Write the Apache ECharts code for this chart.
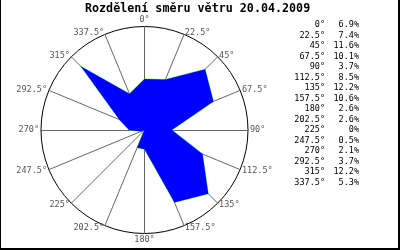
<!DOCTYPE html>
<html>
<head>
<meta charset="utf-8">
<script src="https://cdn.jsdelivr.net/npm/echarts@6/dist/echarts.min.js"></script>
<style>html,body{margin:0;padding:0;background:#fff}#c{width:400px;height:250px}</style>
</head>
<body>
<div id="c"></div>
<script>
const titleText = 'Rozdělení směru větru 20.04.2009';
const directionLabels = ['0°','22.5°','45°','67.5°','90°','112.5°','135°','157.5°','180°','202.5°','225°','247.5°','270°','292.5°','315°','337.5°'];
const percentValues = [6.9, 7.4, 11.6, 10.1, 3.7, 8.5, 12.2, 10.6, 2.6, 2.6, 0, 0.5, 2.1, 3.7, 12.2, 5.3];
const radialMax = 14;

// radar draws counter-clockwise; reorder so directions go clockwise from north
const order = directionLabels.map((_, i) => (directionLabels.length - i) % directionLabels.length);
const indicators = order.map(i => ({ name: directionLabels[i], max: radialMax, min: 0 }));
const radarValues = order.map(i => percentValues[i]);

const mono = 'DejaVu Sans Mono';
const legendElems = [];
directionLabels.forEach((lab, i) => {
  const y = 25 + i * 10.5;
  legendElems.push({ type: 'text', x: 325, y: y, style: { text: lab, font: '8.5px "' + mono + '"', fill: '#000', align: 'right', verticalAlign: 'middle' } });
  legendElems.push({ type: 'text', x: 359, y: y, style: { text: percentValues[i] + '%', font: '8.5px "' + mono + '"', fill: '#000', align: 'right', verticalAlign: 'middle' } });
});

const chart = echarts.init(document.getElementById('c'), null, { renderer: 'canvas' });
chart.setOption({
  animation: false,
  backgroundColor: '#fff',
  title: {
    text: titleText, left: 85, top: 3, padding: 0,
    textStyle: { fontFamily: mono, fontSize: 11.7, fontWeight: 'bold', color: '#000' }
  },
  radar: {
    center: [144.5, 130], radius: 103.5, startAngle: 90,
    shape: 'circle', splitNumber: 1,
    indicator: indicators,
    nameGap: 2,
    axisName: { color: '#555', fontFamily: mono, fontSize: 8.5 },
    axisLine: { lineStyle: { color: '#666', width: 1 } },
    splitLine: { lineStyle: { color: '#000', width: 1 } },
    splitArea: { show: false },
    axisTick: { show: false },
    axisLabel: { show: false }
  },
  series: [{
    type: 'radar', symbol: 'none', z: 5,
    data: [{ value: radarValues }],
    lineStyle: { color: '#00ff00', width: 0.6 },
    areaStyle: { color: '#0000ff', opacity: 1 }
  }],
  graphic: legendElems.concat([
    { type: 'rect', shape: { x: 0, y: 0, width: 1, height: 250 }, style: { fill: '#000' } },
    { type: 'rect', shape: { x: 398, y: 0, width: 2, height: 250 }, style: { fill: '#000' } },
    { type: 'rect', shape: { x: 0, y: 248, width: 400, height: 2 }, style: { fill: '#000' } }
  ])
});
</script>
</body>
</html>
